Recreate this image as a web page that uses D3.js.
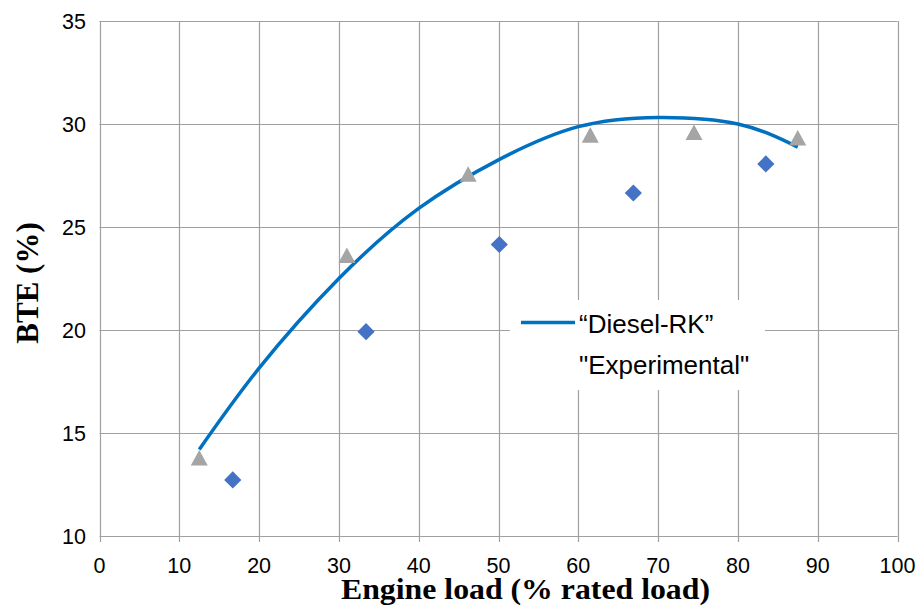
<!DOCTYPE html>
<html>
<head>
<meta charset="utf-8">
<script src="https://cdn.jsdelivr.net/npm/d3@7"></script>
<style>
  html, body { margin: 0; padding: 0; background: #fff; }
  svg { display: block; }
</style>
</head>
<body>
<svg id="chart" width="921" height="608"></svg>
<script>
// Axis ticks
const xTicks = [0, 10, 20, 30, 40, 50, 60, 70, 80, 90, 100];
const yTicks = [10, 15, 20, 25, 30, 35];

// Diesel-RK simulation curve (engine load %, BTE %)
const simLoad = [12.5, 20, 30, 40, 50, 60, 70, 80, 87.5];
const simBTE  = [14.2, 18.15, 22.5, 25.9, 28.26, 29.87, 30.32, 30.0, 28.88];

// Experimental points, set A (triangles)
const expALoad = [12.5, 31.0, 46.2, 61.5, 74.5, 87.5];
const expABTE  = [13.8, 23.63, 27.57, 29.47, 29.6, 29.33];

// Experimental points, set B (diamonds)
const expBLoad = [16.7, 33.4, 50.1, 66.9, 83.5];
const expBBTE  = [12.72, 19.92, 24.15, 26.65, 28.06];

const legendLabels = ["\u201CDiesel-RK\u201D", "\"Experimental\""];

const svg = d3.select("#chart");
const x = d3.scaleLinear().domain([0, 100]).range([99.5, 897.5]);
const y = d3.scaleLinear().domain([10, 35]).range([536, 21]);

const gridColor = "#a0a0a0";

// Gridlines
svg.append("g").selectAll("line").data(xTicks).join("line")
  .attr("x1", d => Math.round(x(d)) + 0.5).attr("x2", d => Math.round(x(d)) + 0.5)
  .attr("y1", y(35)).attr("y2", y(10) + 6)
  .attr("stroke", gridColor).attr("stroke-width", 1.2);

svg.append("g").selectAll("line").data(yTicks).join("line")
  .attr("x1", x(0)).attr("x2", x(100))
  .attr("y1", d => Math.round(y(d)) + 0.5).attr("y2", d => Math.round(y(d)) + 0.5)
  .attr("stroke", gridColor).attr("stroke-width", 1.2);

// Tick labels
const tickFont = "'Liberation Sans', Arial, sans-serif";
svg.append("g").selectAll("text").data(xTicks).join("text")
  .attr("x", d => x(d)).attr("y", 573)
  .attr("text-anchor", "middle")
  .attr("font-family", tickFont).attr("font-size", 21.5)
  .attr("fill", "#000")
  .text(d => d);

svg.append("g").selectAll("text").data(yTicks).join("text")
  .attr("x", 86).attr("y", d => y(d) + 7.8)
  .attr("text-anchor", "end")
  .attr("font-family", tickFont).attr("font-size", 21.5)
  .attr("fill", "#000")
  .text(d => d);

// Axis titles
const titleFont = "'Liberation Serif', 'Times New Roman', serif";
svg.append("text")
  .attr("x", 525.5).attr("y", 599)
  .attr("text-anchor", "middle")
  .attr("font-family", titleFont).attr("font-weight", "bold").attr("font-size", 30)
  .attr("textLength", 369).attr("lengthAdjust", "spacingAndGlyphs")
  .text("Engine load (% rated load)");

svg.append("text")
  .attr("transform", "translate(38,283) rotate(-90)")
  .attr("text-anchor", "middle")
  .attr("font-family", titleFont).attr("font-weight", "bold").attr("font-size", 31)
  .text("BTE (%)");

// Simulation curve
const simData = simLoad.map((d, i) => [d, simBTE[i]]);
svg.append("path")
  .datum(simData)
  .attr("d", d3.line().x(d => x(d[0])).y(d => y(d[1])).curve(d3.curveNatural))
  .attr("fill", "none")
  .attr("stroke", "#0070C0")
  .attr("stroke-width", 3.5);

// Triangles (bounding-box centred)
const triPath = "M0,-7.8L8.5,7.8L-8.5,7.8Z";
svg.append("g").selectAll("path").data(expALoad.map((d, i) => [d, expABTE[i]])).join("path")
  .attr("transform", d => `translate(${x(d[0])},${y(d[1])})`)
  .attr("d", triPath)
  .attr("fill", "#A5A5A5");

// Diamonds
const diaPath = "M0,-8.6L8.6,0L0,8.6L-8.6,0Z";
svg.append("g").selectAll("path").data(expBLoad.map((d, i) => [d, expBBTE[i]])).join("path")
  .attr("transform", d => `translate(${x(d[0])},${y(d[1])})`)
  .attr("d", diaPath)
  .attr("fill", "#4472C4");

// Legend
const legend = svg.append("g");
legend.append("rect")
  .attr("x", 510).attr("y", 300).attr("width", 255).attr("height", 90)
  .attr("fill", "#fff");
legend.append("line")
  .attr("x1", 521).attr("x2", 575).attr("y1", 322.5).attr("y2", 322.5)
  .attr("stroke", "#0070C0").attr("stroke-width", 3.5);
legend.selectAll("text").data(legendLabels).join("text")
  .attr("x", 579)
  .attr("y", (d, i) => i === 0 ? 333 : 373.5)
  .attr("font-family", tickFont).attr("font-size", 26)
  .attr("fill", "#000")
  .text(d => d);
</script>
</body>
</html>
